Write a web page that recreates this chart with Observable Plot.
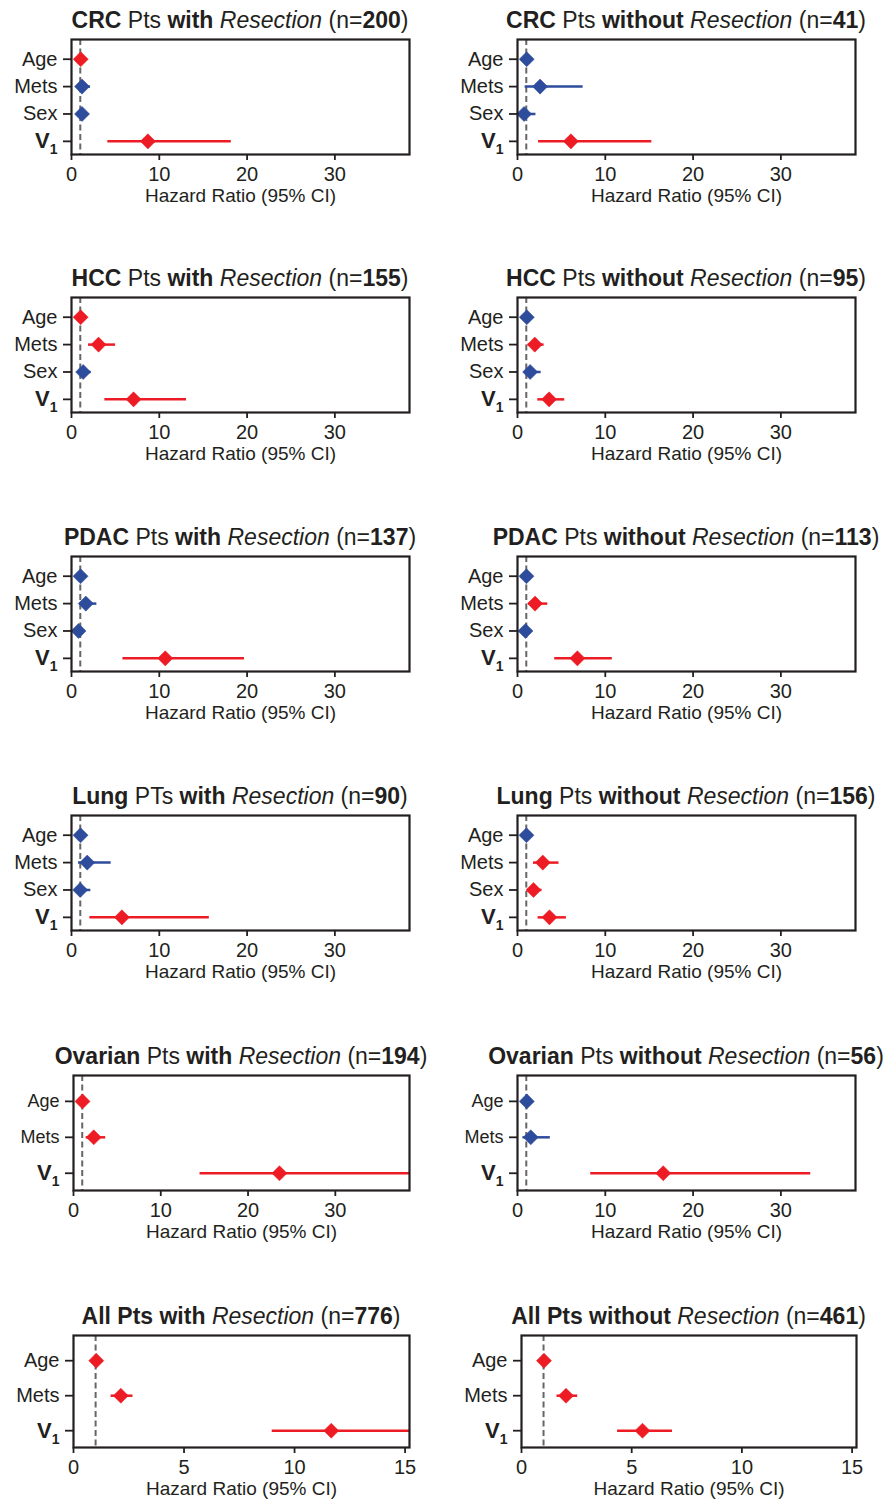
<!DOCTYPE html>
<html><head><meta charset="utf-8">
<script src="https://cdn.jsdelivr.net/npm/d3@7"></script>
<script src="https://cdn.jsdelivr.net/npm/@observablehq/plot@0.6"></script>
<style>
body{margin:0;background:#fff;}
#chart{position:relative;width:890px;height:1502px;background:#fff;font-family:"Liberation Sans",Arial,Helvetica,sans-serif;color:#231f20;overflow:hidden;}
.title{position:absolute;white-space:nowrap;font-size:23px;line-height:23px;text-align:center;width:600px;}
.title b{font-weight:700;}
.panel{position:absolute;}
</style></head><body><div id="chart"></div>
<script>
// ---------- data ----------
const cancers = ["CRC","CRC","HCC","HCC","PDAC","PDAC","Lung","Lung","Ovarian","Ovarian","All","All"];
const ptsWords = ["Pts","Pts","Pts","Pts","Pts","Pts","PTs","Pts","Pts","Pts","Pts","Pts"];
const groups = ["with","without","with","without","with","without","with","without","with","without","with","without"];
const sampleSizes = [200,41,155,95,137,113,90,156,194,56,776,461];
const vars4 = ["Age","Mets","Sex","V1"];
const vars3 = ["Age","Mets","V1"];
const panelVariables = [vars4,vars4,vars4,vars4,vars4,vars4,vars4,vars4,vars3,vars3,vars3,vars3];
const hazardRatios = [
  [1.05,1.20,1.20,8.70],
  [1.05,2.57,0.75,6.08],
  [1.04,3.08,1.33,7.07],
  [1.06,1.97,1.44,3.60],
  [1.03,1.63,0.80,10.68],
  [1.02,2.00,0.91,6.82],
  [1.03,1.79,0.99,5.74],
  [1.02,2.88,1.82,3.64],
  [1.03,2.32,23.6],
  [1.06,1.51,16.6],
  [1.03,2.14,11.66],
  [1.02,2.02,5.49]
];
const ciLower = [
  [1.02,0.65,0.75,4.14],
  [0.97,0.87,0.28,2.40],
  [1.01,1.94,0.80,3.80],
  [0.98,1.21,0.76,2.31],
  [0.98,0.92,0.50,5.86],
  [0.98,1.29,0.60,4.24],
  [0.98,0.80,0.45,2.09],
  [0.98,1.82,1.14,2.35],
  [1.01,1.45,14.5],
  [0.95,0.62,8.34],
  [1.01,1.70,8.99],
  [1.01,1.61,4.36]
];
const ciUpper = [
  [1.08,2.17,1.80,18.2],
  [1.15,7.47,2.10,15.3],
  [1.07,5.02,2.24,13.1],
  [1.12,3.03,2.69,5.38],
  [1.08,2.89,1.25,19.7],
  [1.06,3.45,1.35,10.8],
  [1.08,4.52,2.20,15.7],
  [1.06,4.73,2.80,5.57],
  [1.06,3.69,38.5],
  [1.15,3.74,33.4],
  [1.05,2.69,15.2],
  [1.03,2.55,6.85]
];
const significant = [
  [1,0,0,1],[0,0,0,1],[1,1,0,1],[0,1,0,1],[0,0,0,1],[0,1,0,1],
  [0,0,0,1],[0,1,1,1],[1,1,1],[0,0,1],[1,1,1],[1,1,1]
];
const xTicksLong = [0,10,20,30];
const xTicksShort = [0,5,10,15];
const xLabel = "Hazard Ratio (95% CI)";

// ---------- layout ----------
const RED = "#ed1c24", BLUE = "#2e4c9c", INK = "#231f20", DASH = "#666666";
const FONT = '"Liberation Sans", Arial, Helvetica, sans-serif';
const rowTops = [39, 297, 556, 815, 1075, 1335];
const chart = document.getElementById("chart");

cancers.forEach((cancer, k) => {
  const col = k % 2, row = Math.floor(k / 2);
  const left = col * 445;
  const frameTop = rowTops[row];
  const frameH = row === 5 ? 112 : 115;
  const mt = 10, mb = 62;
  const ml = col === 0 ? (row >= 4 ? 73 : 71) : (row === 5 ? 76 : 72);
  const mr = col === 0 ? 36 : (row === 5 ? 34 : 35);
  const vars = panelVariables[k];
  const n = vars.length;
  const short = row === 5;
  const data = vars.map((v, i) => ({
    i, v, hr: hazardRatios[k][i], lo: ciLower[k][i], hi: ciUpper[k][i],
    sig: significant[k][i] ? "sig" : "ns"
  }));
  const svg = Plot.plot({
    width: 445, height: mt + frameH + mb,
    marginTop: mt, marginBottom: mb, marginLeft: ml, marginRight: mr,
    style: {fontFamily: FONT, fontSize: "19px", color: INK, background: "transparent", overflow: "visible"},
    x: {domain: [0, short ? 15.2 : 38.5]},
    y: {domain: [n - 0.52, -0.72]},
    color: {domain: ["sig", "ns"], range: [RED, BLUE]},
    marks: [
      Plot.ruleX([1], {stroke: DASH, strokeWidth: 2, strokeDasharray: "6,3.5"}),
      Plot.ruleY(data, {y: "i", x1: "lo", x2: "hi", stroke: "sig", strokeWidth: 2.5, clip: true}),
      Plot.dot(data, {x: "hr", y: "i", symbol: "diamond2", r: 6.8, fill: "sig", stroke: "sig", strokeWidth: 0.5}),
      Plot.axisX({ticks: short ? xTicksShort : xTicksLong, tickSize: 6, tickPadding: 6, label: null, color: INK, strokeWidth: 1.8, fontSize: 20}),
      Plot.axisY({ticks: d3.range(n), tickFormat: i => vars[i], tickSize: 8, tickPadding: 6, label: null, color: INK, strokeWidth: 1.8, fontSize: row === 4 ? 18 : 20}),
      Plot.text([xLabel], {frameAnchor: "bottom", dy: 47, fontSize: 19, fill: INK}),
      Plot.frame({stroke: INK, strokeWidth: 2.2})
    ]
  });
  // subscript label V1
  d3.select(svg).selectAll("text").filter(function() { return this.textContent === "V1"; })
    .each(function() {
      const t = d3.select(this);
      t.text("V").attr("font-weight", "bold").attr("font-size", 22);
      t.append("tspan").attr("font-size", 14).attr("dy", 6).text("1");
    });
  const wrap = document.createElement("div");
  wrap.className = "panel";
  wrap.style.left = left + "px";
  wrap.style.top = (frameTop - mt) + "px";
  wrap.appendChild(svg);
  chart.appendChild(wrap);

  const title = document.createElement("div");
  title.className = "title";
  const frameCenter = left + ml + (445 - ml - mr) / 2;
  title.style.left = (frameCenter - 300) + "px";
  title.style.top = (frameTop - 30) + "px";
  const pts = cancer === "All" ? `<b>${ptsWords[k]}</b>` : ptsWords[k];
  title.innerHTML = `<b>${cancer}</b> ${pts} <b>${groups[k]}</b> <i>Resection</i> (n=<b>${sampleSizes[k]}</b>)`;
  chart.appendChild(title);
});
</script></body></html>
